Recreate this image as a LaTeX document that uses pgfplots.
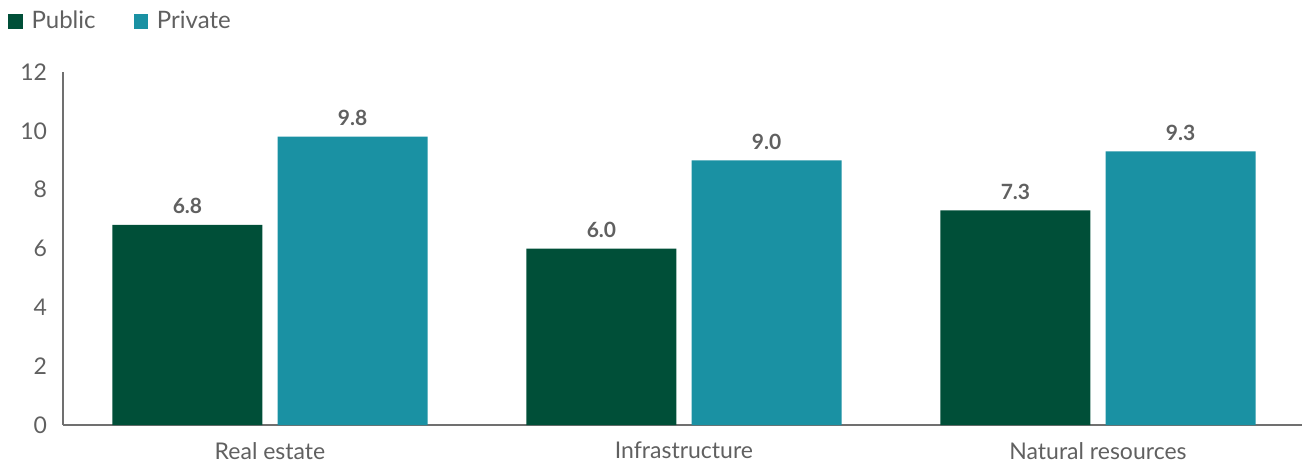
\documentclass[border=0pt]{standalone}
\usepackage{pgfplots}
\pgfplotsset{compat=1.18}
\usepackage{fontspec}
\setmainfont{Lato}
\definecolor{pub}{HTML}{004F38}
\definecolor{priv}{HTML}{1A91A3}
\definecolor{txt}{HTML}{606060}
\definecolor{axl}{HTML}{707070}
\begin{document}
\begin{tikzpicture}
\path[use as bounding box] (-31.5pt,-18.5pt) rectangle (619.5pt,212.5pt);
\begin{axis}[
  scale only axis,
  width=621pt, height=176.5pt,
  xmin=-0.5, xmax=2.5, ymin=0, ymax=12,
  ybar, bar width=0.3623,
  axis x line*=bottom,
  axis y line*=left,
  axis line style={axl, line width=0.7pt, -},
  xtick={0,1,2},
  xticklabels={Real estate, Infrastructure, Natural resources},
  ytick={0,2,...,12},
  major tick length=0pt,
  tick style={draw=none},
  ticklabel style={font=\fontsize{11.5}{13}\selectfont, text=txt},
  /pgf/number format/assume math mode=true,
  yticklabel style={xshift=-4.5pt},
  xticklabel style={yshift=-5pt},
  nodes near coords={\pgfmathprintnumber[fixed,fixed zerofill,precision=1]{\pgfplotspointmeta}},
  nodes near coords style={font=\bfseries\fontsize{10.5}{12}\selectfont, text=txt, yshift=2pt},
  legend columns=2,
  legend style={at={(-0.0445,1.185)}, anchor=north west, draw=none, fill=none, inner sep=0pt,
     font=\fontsize{12}{14}\selectfont, text=txt,
     /tikz/every odd column/.append style={column sep=2.5pt},
     /tikz/every even column/.append style={column sep=17pt}},
  legend image code/.code={\fill[#1, draw=none] (-2pt,-3.6pt) rectangle (5.2pt,3.6pt);},
  clip=false,
]
\addplot[fill=pub, draw=none, bar shift=-0.1993] coordinates {(0,6.8) (1,6.0) (2,7.3)};
\addplot[fill=priv, draw=none, bar shift=0.1993] coordinates {(0,9.8) (1,9.0) (2,9.3)};
\legend{Public, Private}
\end{axis}
\end{tikzpicture}
\end{document}
